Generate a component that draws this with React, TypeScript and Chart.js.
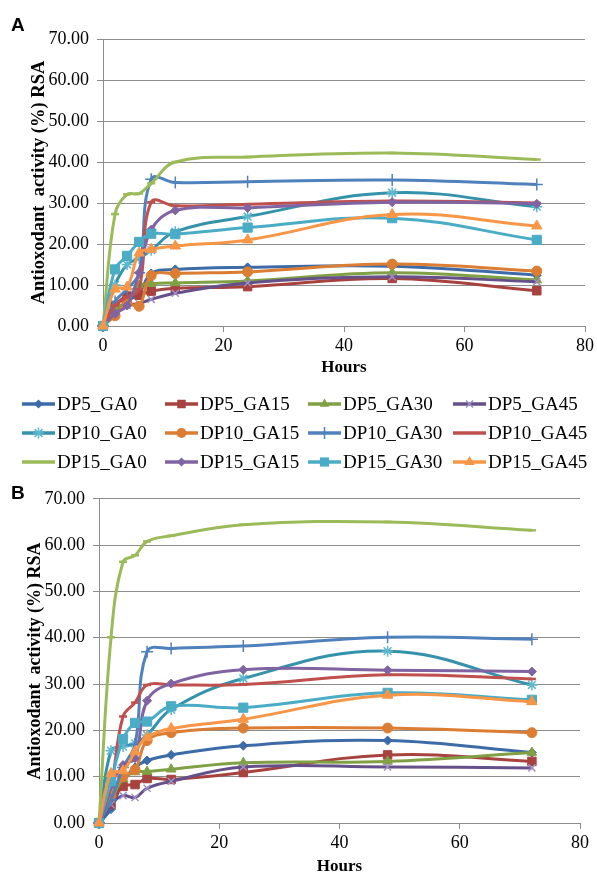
import React, { useEffect, useRef } from 'react';
import { Chart, registerables } from 'chart.js';
Chart.register(...registerables);

// ---------- data ----------
const hours = [0, 2, 4, 6, 8, 12, 24, 48, 72];
const seriesNames = ['DP5_GA0', 'DP5_GA15', 'DP5_GA30', 'DP5_GA45', 'DP10_GA0', 'DP10_GA15', 'DP10_GA30', 'DP10_GA45', 'DP15_GA0', 'DP15_GA15', 'DP15_GA30', 'DP15_GA45'];
const xTicks = [0, 20, 40, 60, 80];
const yTicks = [0, 10, 20, 30, 40, 50, 60, 70];

// Panel A
const A_DP5_GA0 = [0, 3, 6, 8, 12.8, 13.8, 14.3, 14.6, 12.4];
const A_DP5_GA15 = [0, 5, 7.3, 7.5, 8.5, 9.2, 9.6, 11.6, 8.6];
const A_DP5_GA30 = [0, 4, 6, 9.8, 10.3, 10.5, 11, 13, 11.2];
const A_DP5_GA45 = [0, 3, 5, 5.5, 6.5, 8, 10.5, 12, 10.8];
const A_DP10_GA0 = [0, 10, 15, 16.5, 18.5, 23, 26.7, 32.5, 29.1];
const A_DP10_GA15 = [0, 2.5, 5.5, 4.8, 12.3, 12.8, 13.2, 15.1, 13.4];
const A_DP10_GA30 = [0, 6, 9, 13, 35.8, 35, 35.2, 35.6, 34.5];
const A_DP10_GA45 = [0, 5, 7, 9, 30.2, 29.3, 29.7, 30.5, 30];
const A_DP15_GA0 = [0, 27.3, 32.1, 32.3, 34.8, 40, 41.2, 42.2, 40.6];
const A_DP15_GA15 = [0, 3, 5, 13, 23.5, 28.2, 28.8, 30.2, 29.8];
const A_DP15_GA30 = [0, 13.8, 17.1, 20.5, 22.5, 22.4, 24, 26.3, 21];
const A_DP15_GA45 = [0, 9, 9.5, 17.8, 18.7, 19.5, 21, 27.2, 24.4];

// Panel B
const B_DP5_GA0 = [0, 3, 9, 12, 13.5, 14.7, 16.7, 17.8, 15.2];
const B_DP5_GA15 = [0, 4.1, 7.9, 8.3, 9.6, 9.4, 10.9, 14.7, 13.3];
const B_DP5_GA30 = [0, 5, 9.5, 11, 11.1, 11.6, 13, 13.3, 15.2];
const B_DP5_GA45 = [0, 4, 5.9, 5.5, 7.5, 9, 12.1, 12.1, 11.9];
const B_DP10_GA0 = [0, 15.6, 16.5, 17.2, 19, 24.5, 31.2, 37.1, 29.8];
const B_DP10_GA15 = [0, 6, 10, 11.5, 17.8, 19.5, 20.5, 20.5, 19.5];
const B_DP10_GA30 = [0, 5, 12, 17, 37, 37.7, 38.2, 40.1, 39.7];
const B_DP10_GA45 = [0, 8, 23, 26, 29.8, 29.8, 29.9, 32, 31.1];
const B_DP15_GA0 = [0, 40.1, 56.4, 57.8, 60.8, 62, 64.4, 65, 63.2];
const B_DP15_GA15 = [0, 8, 12.5, 14, 26.4, 30.1, 33.1, 33, 32.7];
const B_DP15_GA30 = [0, 9, 18.1, 21.6, 21.9, 25.2, 24.9, 28.1, 26.6];
const B_DP15_GA45 = [0, 10.7, 11.3, 15.4, 18.5, 20.4, 22.4, 27.6, 26.2];

const panelA = [A_DP5_GA0, A_DP5_GA15, A_DP5_GA30, A_DP5_GA45, A_DP10_GA0, A_DP10_GA15, A_DP10_GA30, A_DP10_GA45, A_DP15_GA0, A_DP15_GA15, A_DP15_GA30, A_DP15_GA45];
const panelB = [B_DP5_GA0, B_DP5_GA15, B_DP5_GA30, B_DP5_GA45, B_DP10_GA0, B_DP10_GA15, B_DP10_GA30, B_DP10_GA45, B_DP15_GA0, B_DP15_GA15, B_DP15_GA30, B_DP15_GA45];

// ---------- styles ----------
const lineColors = ['#3D6BA8', '#A8423F', '#80A044', '#65508A', '#3592AB', '#DC7D34', '#4F81BD', '#C0504D', '#9BBB59', '#8064A2', '#4BACC6', '#F79646'];
const markerColors = ['#3D6BA8', '#A8423F', '#80A044', '#9E8FC2', '#5DB8CE', '#DC7D34', '#4F81BD', '#C0504D', '#9BBB59', '#8064A2', '#4BACC6', '#F79646'];
const markerStyles = ['rectRot', 'rect', 'triangle', 'crossRot', 'star', 'circle', 'cross', 'line', 'line', 'rectRot', 'rect', 'triangle'];
const markerRadii = [4.5, 6, 5.5, 5, 5.5, 5, 6, 4, 4, 4.5, 6.5, 6];
const strokeMarkers = ['crossRot', 'star', 'cross', 'line'];

const SERIF = '"Liberation Serif", "Times New Roman", serif';
const GRID = '#8c8c8c';

function makeDatasets(values: number[][]) {
  return values.map((vals, i) => {
    const stroke = strokeMarkers.includes(markerStyles[i]);
    return {
      label: seriesNames[i],
      data: hours.map((h, j) => ({ x: h, y: vals[j] })),
      showLine: true,
      borderColor: lineColors[i],
      backgroundColor: markerColors[i],
      borderWidth: 3,
      tension: 0.4,
      pointStyle: markerStyles[i],
      pointRadius: markerRadii[i],
      pointBackgroundColor: markerColors[i],
      pointBorderColor: markerColors[i],
      pointBorderWidth: stroke ? (markerStyles[i] === 'line' ? 2.5 : 1.5) : 1,
      clip: false,
      order: 11 - i,
    };
  });
}

function drawMarker(ctx: CanvasRenderingContext2D, style: string, x: number, y: number, r: number, color: string) {
  ctx.save();
  ctx.fillStyle = color;
  ctx.strokeStyle = color;
  ctx.beginPath();
  if (style === 'rectRot') {
    ctx.moveTo(x, y - r); ctx.lineTo(x + r, y); ctx.lineTo(x, y + r); ctx.lineTo(x - r, y); ctx.closePath(); ctx.fill();
  } else if (style === 'rect') {
    const s = r * Math.SQRT1_2;
    ctx.rect(x - s, y - s, 2 * s, 2 * s); ctx.fill();
  } else if (style === 'triangle') {
    ctx.moveTo(x, y - r); ctx.lineTo(x + r * 0.866, y + r * 0.5); ctx.lineTo(x - r * 0.866, y + r * 0.5); ctx.closePath(); ctx.fill();
  } else if (style === 'circle') {
    ctx.arc(x, y, r, 0, Math.PI * 2); ctx.fill();
  } else if (style === 'crossRot') {
    ctx.lineWidth = 1.5;
    const d = r * 0.707;
    ctx.moveTo(x - d, y - d); ctx.lineTo(x + d, y + d); ctx.moveTo(x + d, y - d); ctx.lineTo(x - d, y + d); ctx.stroke();
  } else if (style === 'cross') {
    ctx.lineWidth = 1.5;
    ctx.moveTo(x, y - r); ctx.lineTo(x, y + r); ctx.moveTo(x - r, y); ctx.lineTo(x + r, y); ctx.stroke();
  } else if (style === 'star') {
    ctx.lineWidth = 1.5;
    const d = r * 0.707;
    ctx.moveTo(x, y - r); ctx.lineTo(x, y + r); ctx.moveTo(x - r, y); ctx.lineTo(x + r, y);
    ctx.moveTo(x - d, y - d); ctx.lineTo(x + d, y + d); ctx.moveTo(x + d, y - d); ctx.lineTo(x - d, y + d); ctx.stroke();
  }
  ctx.restore();
}

// legend layout
const legendCols = [22, 165, 308, 453];
const legendRows = [404, 433, 462];
const legendLineLen = 33;

const legendPlugin = {
  id: 'excelLegend',
  afterDraw(chart: any) {
    const ctx = chart.ctx as CanvasRenderingContext2D;
    ctx.save();
    ctx.font = `19px ${SERIF}`;
    ctx.textBaseline = 'middle';
    ctx.textAlign = 'left';
    seriesNames.forEach((name, i) => {
      const col = i % 4;
      const row = Math.floor(i / 4);
      const x0 = legendCols[col];
      const y = legendRows[row];
      ctx.strokeStyle = lineColors[i];
      ctx.lineWidth = 3.5;
      ctx.beginPath();
      ctx.moveTo(x0, y);
      ctx.lineTo(x0 + legendLineLen, y);
      ctx.stroke();
      if (markerStyles[i] !== 'line') drawMarker(ctx, markerStyles[i], x0 + legendLineLen / 2, y, markerRadii[i], markerColors[i]);
      ctx.fillStyle = '#000';
      ctx.fillText(name, x0 + legendLineLen + 2, y + 1);
    });
    ctx.restore();
  },
};

type Cfg = {
  padding: { left: number; right: number; top: number; bottom: number };
  yWidth: number;
  xHeight: number;
  yTitleTop: number;
  xTitleBottom: number;
  yTitleSize: number;
};

function makeOptions(cfg: Cfg): any {
  return {
    animation: false,
    responsive: false,
    maintainAspectRatio: false,
    events: [],
    layout: { padding: cfg.padding },
    plugins: { legend: { display: false }, tooltip: { enabled: false } },
    scales: {
      x: {
        type: 'linear',
        min: xTicks[0],
        max: xTicks[xTicks.length - 1],
        afterBuildTicks: (s: any) => { s.ticks = xTicks.map((v) => ({ value: v })); },
        ticks: { font: { family: SERIF, size: 18 }, color: '#000', padding: 3, maxRotation: 0 },
        grid: { drawOnChartArea: false, drawTicks: true, tickLength: 6, color: GRID },
        border: { color: GRID, width: 1 },
        title: { display: true, text: 'Hours', color: '#000', font: { family: SERIF, size: 17, weight: 'bold' }, padding: { top: 0, bottom: cfg.xTitleBottom } },
        afterFit: (s: any) => { s.height = cfg.xHeight; },
      },
      y: {
        type: 'linear',
        min: yTicks[0],
        max: yTicks[yTicks.length - 1],
        afterBuildTicks: (s: any) => { s.ticks = yTicks.map((v) => ({ value: v })); },
        ticks: { font: { family: SERIF, size: 18 }, color: '#000', padding: 8, callback: (v: any) => Number(v).toFixed(2) },
        grid: { color: GRID, tickLength: 6 },
        border: { color: GRID, width: 1 },
        title: { display: true, text: 'Antioxodant  activity (%) RSA', color: '#000', font: { family: SERIF, size: cfg.yTitleSize, weight: 'bold' }, padding: { top: cfg.yTitleTop, bottom: 0 } },
        afterFit: (s: any) => { s.width = cfg.yWidth; },
      },
    },
  };
}

function Panel({ values, width, height, cfg, withLegend }: { values: number[][]; width: number; height: number; cfg: Cfg; withLegend: boolean }) {
  const ref = useRef<HTMLCanvasElement>(null);
  useEffect(() => {
    if (!ref.current) return;
    const chart = new Chart(ref.current, {
      type: 'scatter',
      data: { datasets: makeDatasets(values) as any },
      options: makeOptions(cfg),
      plugins: withLegend ? [legendPlugin] : [],
    });
    return () => chart.destroy();
  }, []);
  return <canvas ref={ref} width={width} height={height} style={{ width, height, display: 'block' }} />;
}

const panelLetter: React.CSSProperties = {
  position: 'absolute',
  fontFamily: '"Liberation Sans", Arial, sans-serif',
  fontWeight: 'bold',
  fontSize: 19,
  lineHeight: '19px',
  color: '#000',
};

export default function App() {
  return (
    <div style={{ position: 'absolute', left: 0, top: 0, width: 597, height: 877, background: '#fff', overflow: 'hidden' }}>
      <div style={{ position: 'absolute', left: 0, top: 0 }}>
        <Panel
          values={panelA}
          width={597}
          height={480}
          withLegend={true}
          cfg={{ padding: { left: 0, right: 11, top: 39, bottom: 98 }, yWidth: 103, xHeight: 56, yTitleTop: 28, xTitleBottom: 4, yTitleSize: 18.5 }}
        />
      </div>
      <div style={{ position: 'absolute', left: 0, top: 480 }}>
        <Panel
          values={panelB}
          width={597}
          height={397}
          withLegend={false}
          cfg={{ padding: { left: 0, right: 17, top: 17, bottom: 0 }, yWidth: 99, xHeight: 54, yTitleTop: 25, xTitleBottom: 0, yTitleSize: 18 }}
        />
      </div>
      <div style={{ ...panelLetter, left: 11, top: 15 }}>A</div>
      <div style={{ ...panelLetter, left: 11, top: 483 }}>B</div>
    </div>
  );
}
